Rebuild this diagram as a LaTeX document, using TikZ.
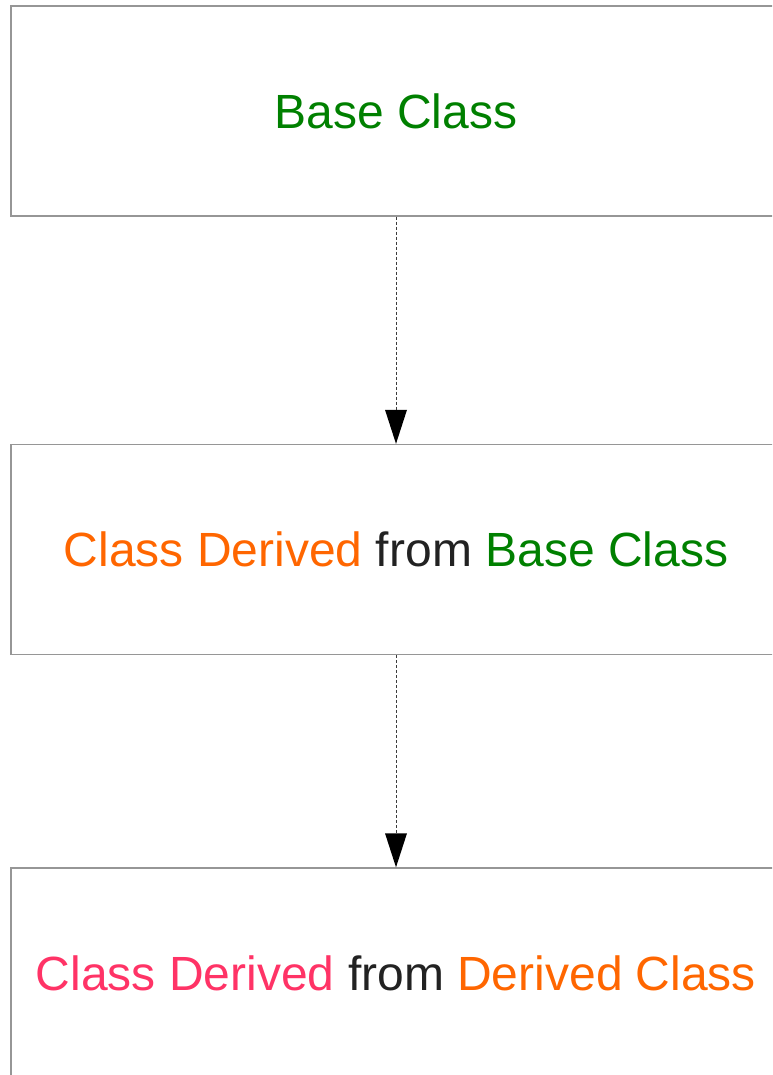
\documentclass[tikz,border=0pt]{standalone}
\usepackage{fontspec}
\setmainfont{Liberation Sans}
\usetikzlibrary{arrows.meta}
\definecolor{boxgray}{RGB}{150,150,150}
\definecolor{cgreen}{RGB}{0,128,0}
\definecolor{corange}{RGB}{255,102,0}
\definecolor{cpink}{RGB}{255,51,102}
\definecolor{cdark}{RGB}{34,34,34}
\definecolor{cline}{RGB}{60,60,60}
\tikzset{
  classbox/.style={draw=boxgray, line width=1.4pt, rectangle, minimum width=770pt, minimum height=210pt, inner sep=0pt, font=\fontsize{48}{58}\selectfont, text=cdark},
  inherit/.style={draw=cline, line width=1pt, dash pattern=on 3pt off 2pt, -{Triangle[length=34pt,width=22pt,fill=black,line width=0pt]}}
}
\begin{document}
\begin{tikzpicture}[x=1pt,y=-1pt]
\useasboundingbox (0,0) rectangle (772,1075);
\clip (0,0) rectangle (772,1075);
\node[classbox] (b1) at (396,111) {\textcolor{cgreen}{Base Class}};
\node[classbox] (b2) at (396,549.5) {\textcolor{corange}{Class Derived} from \textcolor{cgreen}{Base Class}};
\node[classbox] (b3) at (396,973) {\textcolor{cpink}{Class Derived} from \textcolor{corange}{Derived Class}};
\draw[inherit] (b1.south) -- (b2.north);
\draw[inherit] (b2.south) -- (b3.north);
\end{tikzpicture}
\end{document}
